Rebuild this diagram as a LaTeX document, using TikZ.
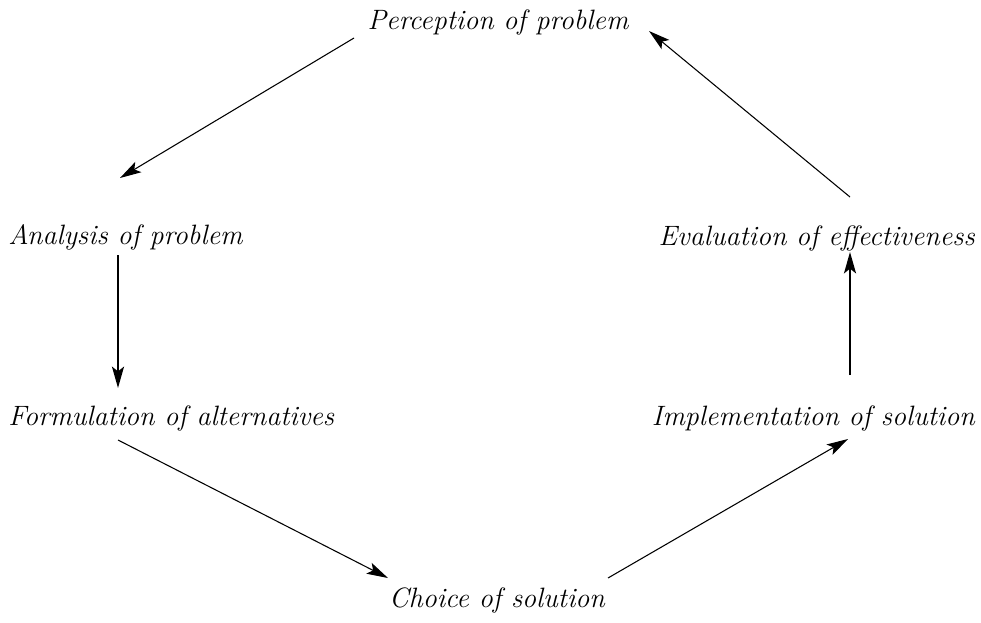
\documentclass[tikz,border=0pt]{standalone}
\usetikzlibrary{arrows.meta,calc}

\tikzset{
  stage/.style={inner sep=0pt,font=\fontsize{21}{24}\selectfont\itshape},
  flow/.style={-{Stealth[length=16pt,width=9pt,inset=3.5pt]},line width=0.8pt},
  flowthick/.style={flow,line width=1.6pt}
}

\begin{document}
\begin{tikzpicture}[x=0.75pt,y=-0.75pt]
    \useasboundingbox (0,0) rectangle (981,622);

    % stages of the cycle
    \foreach \name/\anc/\x/\y/\txt in {perc/center/498/22/Perception of problem,
                                       anal/west/8/237/Analysis of problem,
                                       form/west/8/418/Formulation of alternatives,
                                       choice/center/497/600/Choice of solution,
                                       impl/east/975/418/Implementation of solution,
                                       eval/east/975/238/Evaluation of effectiveness} {
      \node[stage,anchor=\anc] (\name) at (\x,\y) {\txt};
    }

    % arrows round the cycle
    \draw[flow] ($(perc)+(-144,16)$) -- ($(anal.west)+(112,-59)$);
    \draw[flowthick] ($(anal.west)+(110,18)$) -- ($(form.west)+(110,-30)$);
    \draw[flow] ($(form.west)+(110,22)$) -- ($(choice)+(-109,-22)$);
    \draw[flow] ($(choice)+(111,-22)$) -- ($(impl.east)+(-127,21)$);
    \draw[flowthick] ($(impl.east)+(-125,-43)$) -- ($(eval.east)+(-125,14)$);
    \draw[flow] ($(eval.east)+(-125,-41)$) -- ($(perc)+(151,9)$);
  \end{tikzpicture}
\end{document}
